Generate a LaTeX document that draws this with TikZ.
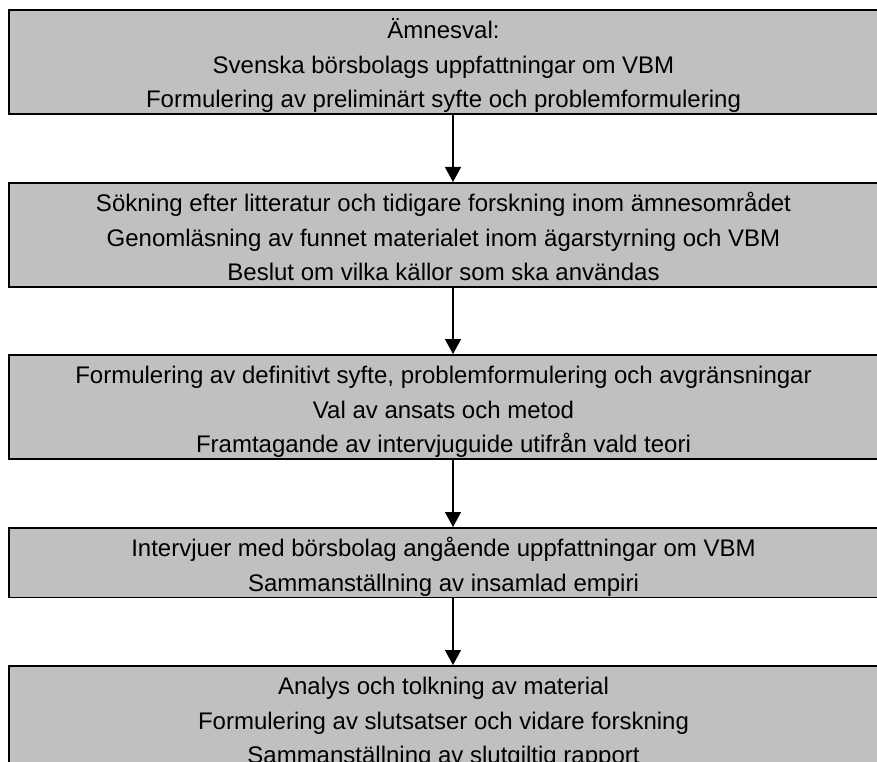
\documentclass[tikz,border=0pt]{standalone}
\usepackage{fontspec}
\setmainfont{Liberation Sans}
\usepackage{xcolor}
\usetikzlibrary{arrows.meta}
\definecolor{boxgray}{HTML}{C0C0C0}
\newcommand{\topp}{\rule{0pt}{29pt}}
\newcommand{\botten}{\rule[-6pt]{0pt}{0pt}}

\begin{document}
\begin{tikzpicture}[x=1pt,y=1pt,
            fas/.style={draw=black,fill=boxgray,line width=1.6pt,rectangle,anchor=north,
                minimum width=869pt,inner sep=0pt,align=center,
                font=\fontsize{24}{34.5}\selectfont},
            pil/.style={line width=1.3pt,-{Triangle[width=16pt,length=15pt]}}]
            \useasboundingbox (0,0) rectangle (877,-762);
            \clip (0,0) rectangle (877,-762);

            \node[fas,minimum height=104pt] (amne) at (443.5,-9) {\topp Ämnesval:\\Svenska börsbolags uppfattningar om VBM\\Formulering av preliminärt syfte och problemformulering\botten};
            \node[fas,minimum height=103pt] (sok) at (443.5,-182) {\topp Sökning efter litteratur och tidigare forskning inom ämnesområdet\\Genomläsning av funnet materialet inom ägarstyrning och VBM\\Beslut om vilka källor som ska användas\botten};
            \node[fas,minimum height=104pt] (syfte) at (443.5,-354) {\topp Formulering av definitivt syfte, problemformulering och avgränsningar\\Val av ansats och metod\\Framtagande av intervjuguide utifrån vald teori\botten};
            \node[fas,minimum height=69pt] (intervju) at (443.5,-527) {\topp Intervjuer med börsbolag angående uppfattningar om VBM\\Sammanställning av insamlad empiri\botten};
            \node[fas,minimum height=104pt] (analys) at (443.5,-665) {\topp Analys och tolkning av material\\Formulering av slutsatser och vidare forskning\\Sammanställning av slutgiltig rapport\botten};

            \draw[pil] ([xshift=9.5pt]amne.south) -- ([xshift=9.5pt]sok.north);
            \draw[pil] ([xshift=9.5pt]sok.south) -- ([xshift=9.5pt]syfte.north);
            \draw[pil] ([xshift=9.5pt]syfte.south) -- ([xshift=9.5pt]intervju.north);
            \draw[pil] ([xshift=9.5pt]intervju.south) -- ([xshift=9.5pt]analys.north);
        \end{tikzpicture}
\end{document}
